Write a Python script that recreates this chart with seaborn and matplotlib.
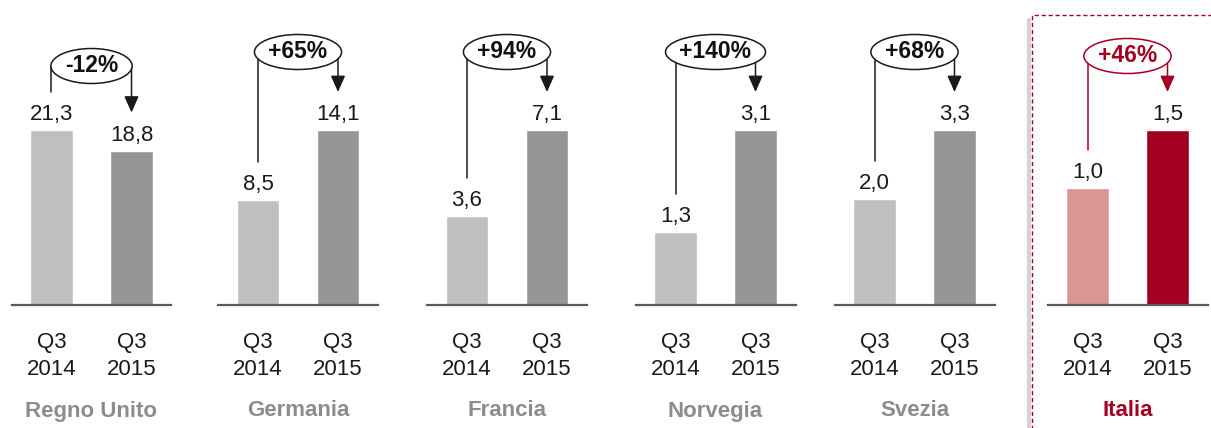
import numpy as np
import matplotlib
matplotlib.use("Agg")
import matplotlib.pyplot as plt
from matplotlib.patches import Ellipse, Rectangle
import seaborn as sns

# data
countries = ["Regno Unito", "Germania", "Francia", "Norvegia", "Svezia", "Italia"]
periods = ["Q3\n2014", "Q3\n2015"]
v2014 = [21.3, 8.5, 3.6, 1.3, 2.0, 1.0]
v2015 = [18.8, 14.1, 7.1, 3.1, 3.3, 1.5]
changes = ["-12%", "+65%", "+94%", "+140%", "+68%", "+46%"]

sns.set_style("white")
plt.rcParams["font.family"] = ["Liberation Sans", "DejaVu Sans"]

W, H = 1211, 428
fig = plt.figure(figsize=(W / 100, H / 100), dpi=100)

# layout (pixels)
lefts = [11.5, 218, 427, 635.5, 834.5, 1047.5]
ell_y = [66, 52, 52, 52, 52, 56]
base_px = 305      # baseline from top
max_px = 175       # height of tallest bar
ax_w = 160

gray_cols = ["#BFBFBF", "#969696"]
red_cols = ["#D99694", "#A50021"]
red = "#A50021"

renderer = fig.canvas.get_renderer()

for i, name in enumerate(countries):
    ax = fig.add_axes([lefts[i] / W, 1 - base_px / H, ax_w / W, base_px / H])
    vals = [v2014[i], v2015[i]]
    is_it = name == "Italia"
    cols = red_cols if is_it else gray_cols
    sns.barplot(x=periods, y=vals, hue=periods, palette=cols, legend=False,
                width=0.53, saturation=1, ax=ax)
    ytop = max(vals) * base_px / max_px
    ax.set_ylim(0, ytop)
    ax.set_xlim(-0.5, 1.5)
    ax.set_yticks([])
    ax.set_xlabel("")
    ax.set_ylabel("")
    for s in ["top", "left", "right"]:
        ax.spines[s].set_visible(False)
    ax.spines["bottom"].set_color("#595959")
    ax.spines["bottom"].set_linewidth(1.6)
    ax.tick_params(axis="x", length=0, pad=19.5, labelsize=16, colors="#1a1a1a")
    for lab in ax.get_xticklabels():
        lab.set_linespacing(1.4)
    ax.patch.set_alpha(0)

    def yd(px):
        return (base_px - px) / base_px * ytop

    # value labels
    for x, v in enumerate(vals):
        ax.annotate(f"{v:.1f}".replace(".", ","), xy=(x, v), xytext=(0, 10),
                    textcoords="offset pixels", ha="center", va="baseline",
                    fontsize=16, color="#1a1a1a")

    # country label
    ax.annotate(name, xy=(0.5, 0), xycoords=("data", "axes fraction"),
                xytext=(0, -106), textcoords="offset pixels", ha="center",
                va="center", fontsize=16, fontweight="bold",
                color=red if is_it else "#8C8C8C")

    # change annotation
    lc = red if is_it else "#1a1a1a"
    ey = yd(ell_y[i])
    end0 = vals[0] + 38 * ytop / base_px
    end1 = vals[1] + 38 * ytop / base_px
    ax.plot([0, 0], [ey, end0], color=lc, lw=1.1, zorder=3, clip_on=False)
    ax.annotate("", xy=(1, end1), xytext=(1, ey),
                arrowprops=dict(arrowstyle="-|>,head_length=0.9,head_width=0.4",
                                color=lc, lw=1.1, mutation_scale=11,
                                shrinkA=0, shrinkB=0),
                annotation_clip=False, zorder=3)
    t = ax.text(0.5, ey, changes[i], ha="center", va="center", fontsize=16.5,
                fontweight="bold", color=red if is_it else "#111111", zorder=6)
    tw = t.get_window_extent(renderer).width
    ell = Ellipse((0.5, ey), width=(tw + 28) / 80, height=35 * ytop / base_px,
                  facecolor="white", edgecolor=lc, lw=1.1, zorder=5, clip_on=False)
    ax.add_patch(ell)

# highlight box around Italia
fig.add_artist(plt.Line2D([1029 / W, 1029 / W], [0, 1 - 20 / H],
                          transform=fig.transFigure, color="#C8C8C8", lw=3, alpha=0.8))
fig.add_artist(Rectangle((1032 / W, -0.1), 0.2, 1.1 - 15 / H, transform=fig.transFigure,
                         fill=False, edgecolor=red, lw=1, linestyle=(0, (3, 2))))

fig.savefig("out.png", dpi=100)
